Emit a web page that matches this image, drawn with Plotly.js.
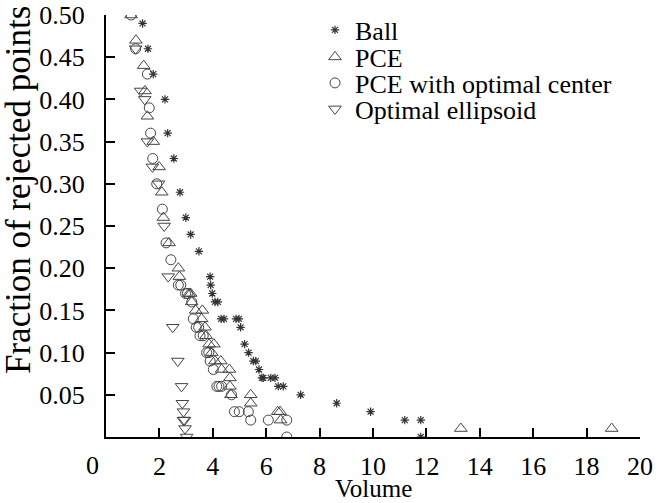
<!DOCTYPE html>
<html>
<head>
<meta charset="utf-8">
<script src="https://cdn.plot.ly/plotly-3.0.1.min.js"></script>
<style>html,body{margin:0;padding:0;background:#fff;}#chart{width:664px;height:503px;}</style>
</head>
<body>
<div id="chart"></div>
<script>
// Ball
const ballX = [1.37,1.57,1.77,2.21,2.31,2.54,2.77,2.99,3.17,3.48,3.90,3.92,3.98,4.08,4.19,4.31,4.42,4.87,4.98,5.04,5.19,5.34,5.52,5.61,5.73,5.84,5.89,6.17,6.33,6.45,6.64,7.29,8.64,9.91,11.19,11.79,11.79];
const ballY = [0.49,0.46,0.43,0.40,0.36,0.33,0.29,0.26,0.24,0.22,0.19,0.18,0.17,0.16,0.16,0.14,0.14,0.14,0.14,0.13,0.11,0.10,0.09,0.09,0.08,0.07,0.07,0.07,0.07,0.06,0.06,0.05,0.04,0.03,0.02,0.02,0.00];
// PCE
const pceX = [0.94,1.12,1.41,1.46,1.55,1.77,1.99,2.09,2.15,2.36,2.71,2.75,3.11,3.17,3.21,3.36,3.61,3.58,3.71,3.75,3.86,4.04,3.96,4.08,4.30,4.33,4.62,4.64,4.64,4.68,5.42,5.42,6.43,6.52,6.54,13.29,18.94];
const pceY = [0.50,0.47,0.44,0.41,0.38,0.35,0.32,0.29,0.26,0.23,0.20,0.19,0.17,0.17,0.16,0.15,0.15,0.14,0.13,0.12,0.11,0.11,0.10,0.09,0.09,0.08,0.08,0.07,0.06,0.05,0.05,0.04,0.03,0.03,0.02,0.01,0.01];
// PCE with optimal center
const pcecX = [0.94,1.11,1.55,1.62,1.67,1.75,1.90,2.11,2.25,2.43,2.71,2.80,2.98,3.05,3.21,3.27,3.38,3.47,3.52,3.64,3.77,3.85,3.90,4.02,4.15,4.23,4.33,4.70,4.81,4.99,5.33,5.42,6.08,6.77,6.77];
const pcecY = [0.50,0.46,0.43,0.39,0.36,0.33,0.30,0.27,0.23,0.21,0.18,0.18,0.17,0.17,0.16,0.14,0.13,0.13,0.12,0.12,0.10,0.10,0.09,0.08,0.06,0.06,0.06,0.05,0.03,0.03,0.03,0.02,0.02,0.02,0.00];
// Optimal ellipsoid
const ellX = [1.11,1.30,1.45,1.55,1.74,1.97,2.18,2.33,2.50,2.69,2.83,2.86,2.90,2.90,2.94,2.96,3.02];
const ellY = [0.46,0.41,0.40,0.35,0.32,0.30,0.25,0.19,0.13,0.09,0.06,0.04,0.03,0.02,0.02,0.01,0.00];

const names = ['Ball','PCE','PCE with optimal center','Optimal ellipsoid'];
const xTicks = [2,4,6,8,10,12,14,16,18,20];
const yTicks = [0.05,0.10,0.15,0.20,0.25,0.30,0.35,0.40,0.45,0.50];
const xTitle = 'Volume';
const yTitle = 'Fraction of rejected points';

const FONT = 'Liberation Serif, Times New Roman, serif';
const grey = '#444';
const TF = 26;

const traces = [
  {x: ballX, y: ballY, name: names[0], type:'scatter', mode:'markers', legend:'legend',
   marker:{symbol:'asterisk-open', size:7, color:'#333', line:{color:'#333', width:1.2}}},
  {x: pceX, y: pceY, name: names[1], type:'scatter', mode:'markers', legend:'legend2',
   marker:{symbol:'triangle-up-open', size:11, color:grey, line:{color:grey, width:1}}},
  {x: pcecX, y: pcecY, name: names[2], type:'scatter', mode:'markers', legend:'legend3',
   marker:{symbol:'circle-open', size:10, color:grey, line:{color:grey, width:1}}},
  {x: ellX, y: ellY, name: names[3], type:'scatter', mode:'markers', legend:'legend4',
   marker:{symbol:'triangle-down-open', size:11, color:grey, line:{color:grey, width:1}}}
];

function leg(py){
  return {x:0.3914, y:(437-py)/422, xanchor:'left', yanchor:'middle', bgcolor:'rgba(0,0,0,0)',
          font:{family:FONT, size:26, color:'#000'}, borderwidth:0};
}

const layout = {
  width:664, height:503,
  margin:{l:106, r:24, t:15, b:66, autoexpand:false},
  paper_bgcolor:'#fff', plot_bgcolor:'#fff',
  font:{family:FONT, size:TF, color:'#000'},
  showlegend:true,
  legend:leg(30), legend2:leg(57), legend3:leg(83), legend4:leg(109),
  xaxis:{range:[0,20], showgrid:false, zeroline:false, showline:true, linecolor:'#000', linewidth:2,
         ticks:'inside', ticklen:9, tickwidth:2, tickcolor:'#000', tickvals:xTicks,
         ticktext:xTicks.map(String), ticklabelstandoff:5, automargin:false,
         tickfont:{family:FONT, size:TF}},
  yaxis:{range:[0,0.5], showgrid:false, zeroline:false, showline:true, linecolor:'#000', linewidth:2,
         ticks:'inside', ticklen:9, tickwidth:2, tickcolor:'#000', tickvals:yTicks,
         ticktext:yTicks.map(v=>v.toFixed(2)), ticklabelstandoff:14, automargin:false,
         tickfont:{family:FONT, size:TF}},
  annotations:[
    {x:0, y:0, xref:'x', yref:'paper', text:'0', showarrow:false, xanchor:'center', yanchor:'middle',
     xshift:-14, yshift:-28, font:{family:FONT, size:TF, color:'#000'}},
    {x:0.5, y:0, xref:'paper', yref:'paper', text:xTitle, showarrow:false, xanchor:'center', yanchor:'middle',
     yshift:-51, font:{family:FONT, size:25, color:'#000'}},
    {x:0, y:0.5, xref:'paper', yref:'paper', text:yTitle, showarrow:false, textangle:-90,
     xanchor:'center', yanchor:'middle', xshift:-88, yshift:36, font:{family:FONT, size:35, color:'#000'}}
  ]
};

Plotly.newPlot('chart', traces, layout, {displayModeBar:false, staticPlot:true});
</script>
</body>
</html>
